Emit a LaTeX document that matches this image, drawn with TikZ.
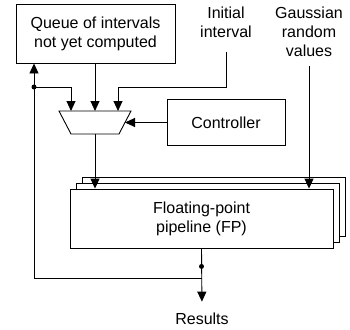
\documentclass[tikz,border=0pt]{standalone}
\usepackage{fontspec}
\setmainfont{Liberation Sans}
\usetikzlibrary{arrows.meta,calc,positioning,shadows}

\begin{document}
\begin{tikzpicture}[x=1pt,y=-1pt,>={Triangle[length=10pt,width=9pt]},line width=0.9pt,
  font=\fontsize{16}{19}\selectfont,
  block/.style={draw,rectangle,fill=white,align=center,inner sep=0pt},
  lbl/.style={align=center,inner sep=0pt}]
  \useasboundingbox (0,0) rectangle (350,329);
  \node[block,minimum width=159pt,minimum height=59pt] (queue) at (95.5,33.5) {Queue of intervals\\not yet computed};
  \node[lbl] (init)  at (226,22.5) {Initial\\interval};
  \node[lbl] (gauss) at (309,31.5) {Gaussian\\random\\values};
  \node[block,minimum width=118pt,minimum height=46pt] (ctrl) at (226,122.5) {Controller};
  \node[block,minimum width=263pt,minimum height=59pt,
        copy shadow={shadow xshift=12.5pt,shadow yshift=12pt},
        copy shadow={shadow xshift=6.3pt,shadow yshift=6pt}] (fp) at (201.5,218.5) {Floating-point\\pipeline (FP)};
  \node[lbl] (res) at (202,319) {Results};
  \draw (59,111) coordinate (mux-nw) -- (131,111) coordinate (mux-ne)
     -- (119,134) coordinate (mux-se) -- (71,134) coordinate (mux-sw) -- cycle;
  \coordinate (mux-n) at ($(mux-nw)!0.5!(mux-ne)$);
  \coordinate (mux-s) at ($(mux-sw)!0.5!(mux-se)$);
  \coordinate (mux-e) at ($(mux-ne)!0.5!(mux-se)$);
  \coordinate (tap) at (34,87);
  \coordinate (sdot) at ($(fp.south)+(0,18)$);
  \coordinate (split) at ($(fp.south)+(0,30)$);
  \draw[->] (mux-n |- queue.south) -- (mux-n);
  \draw[->] (tap) -| ($(mux-n)+(-24,0)$);
  \draw[->,shorten <=14pt] (init.south) |- ($(mux-n)+(23,-24)$) -- ($(mux-n)+(23,0)$);
  \draw[->] (ctrl.west) -- (mux-e);
  \draw[->] (mux-s) -- (mux-s |- fp.north);
  \draw[->,shorten <=9pt] (gauss.south) -- (gauss.south |- fp.north);
  \draw[->,shorten >=11pt] (fp.south) -- (res.north);
  \draw[->] (split) -| (tap |- queue.south);
  \fill (tap) circle (2.5pt);
  \fill (sdot) circle (2.5pt);
\end{tikzpicture}
\end{document}
